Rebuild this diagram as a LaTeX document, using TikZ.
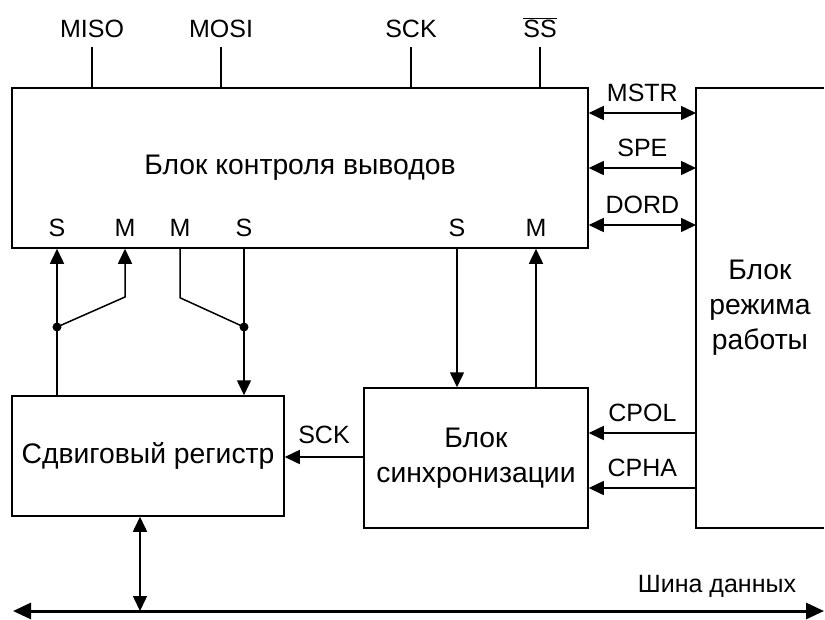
\documentclass[tikz,border=0pt]{standalone}
\usepackage{fontspec}
\setmainfont{Liberation Sans}
\usetikzlibrary{arrows.meta, positioning}
\tikzset{
  block/.style={rectangle, draw, line width=1.5pt, align=center, inner sep=0pt, font=\fontsize{28.3}{35}\selectfont},
  lbl/.style={inner sep=0pt, font=\fontsize{25}{30}\selectfont},
  wire/.style={line width=1.5pt},
  arrow/.style={wire, -{Triangle[length=15pt, width=14pt]}},
  darrow/.style={wire, {Triangle[length=15pt, width=14pt]}-{Triangle[length=15pt, width=14pt]}},
  bus/.style={line width=3pt, {Triangle[length=18pt, width=16pt]}-{Triangle[length=18pt, width=16pt]}},
  dot/.style={circle, fill, inner sep=0pt, minimum size=9pt},
}
\begin{document}
\begin{tikzpicture}[x=1pt, y=-1pt]
  \useasboundingbox (0,0) rectangle (825,619);
  % blocks
  \node[block, minimum width=576pt, minimum height=160pt] (ctrl) at (300,168) {Блок контроля выводов};
  \node[block, draw=none, outer sep=0pt, minimum width=128pt, minimum height=440pt] (mode) at (760,308) {Блок\\режима\\работы};
  \draw[wire] (mode.north east) -- (mode.north west) -- (mode.south west) -- (mode.south east);
  \node[block, minimum width=272pt, minimum height=120pt] (shreg) at (148,456) {Сдвиговый регистр};
  \node[block, minimum width=224pt, minimum height=140pt] (sync) at (476,458) {Блок\\синхронизации};
  % outer pins
  \foreach \x/\t [count=\i] in {92/MISO, 221/MOSI, 411/SCK, 540/{$\overline{\mbox{SS}}$}} {
    \node[lbl, anchor=base] (top\i) at (\x,37) {\t};
    \draw[wire] (ctrl.north -| top\i) -- ++(0,-40);
  }
  % S/M pins
  \foreach \n/\x/\t in {S1/57/S, M1/125/M, M2/180/M, S2/244/S, S3/457/S, M3/536/M}
    \node[lbl, anchor=base] (pin\n) at (\x,236) {\t};
  \node[dot] (jL) at (57,327) {};
  \node[dot] (jR) at (244,327) {};
  \draw[arrow] (shreg.north -| pinS1) -- (ctrl.south -| pinS1);
  \draw[arrow] (jL.center) -- ++(68,-30) -- (ctrl.south -| pinM1);
  \draw[wire] (ctrl.south -| pinM2) -- ++(0,49) -- (jR.center);
  \draw[arrow] (ctrl.south -| pinS2) -- (shreg.north -| pinS2);
  \draw[arrow] (ctrl.south -| pinS3) -- (sync.north -| pinS3);
  \draw[arrow] (sync.north -| pinM3) -- (ctrl.south -| pinM3);
  % control bits
  \foreach \y/\t in {113/MSTR, 168/SPE, 225/DORD} {
    \coordinate (y\t) at (642,\y);
    \draw[darrow] (ctrl.east |- y\t) -- (mode.west |- y\t)
      node[lbl, midway, anchor=base, yshift=12pt] {\t};
  }
  \foreach \y/\t in {433/CPOL, 488/CPHA} {
    \coordinate (y\t) at (642,\y);
    \draw[arrow] (mode.west |- y\t) -- (sync.east |- y\t)
      node[lbl, midway, anchor=base, yshift=12pt] {\t};
  }
  \coordinate (ySCK) at (324,457);
  \draw[arrow] (sync.west |- ySCK) -- (shreg.east |- ySCK)
    node[lbl, midway, anchor=base, yshift=14pt] {SCK};
  % data bus
  \coordinate (busL) at (13,611);
  \coordinate (busR) at (824,611);
  \coordinate (tap) at (140,611);
  \draw[bus] (busL) -- (busR);
  \node[lbl, anchor=base] (busname) at (717,592) {Шина данных};
  \draw[darrow] (shreg.south -| tap) -- (tap);
\end{tikzpicture}
\end{document}
